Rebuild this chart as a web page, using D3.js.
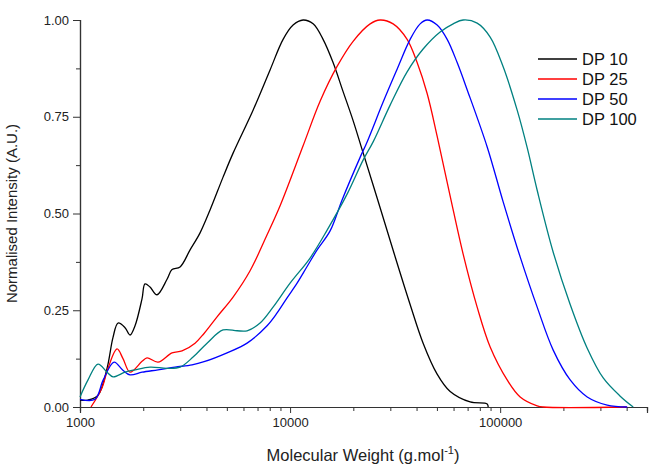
<!DOCTYPE html>
<html>
<head>
<meta charset="utf-8">
<script src="https://cdn.jsdelivr.net/npm/d3@7"></script>
<style>
  body { margin: 0; background: #fff; }
  svg { font-family: "Liberation Sans", Arial, sans-serif; }
</style>
</head>
<body>
<svg id="chart" width="672" height="464"></svg>
<script>
// molecular weight (g/mol) and normalised intensity for each sample
const dp10MW = [1000, 1092, 1218, 1345, 1436, 1517, 1638, 1730, 1828, 1974, 2039, 2154, 2326, 2596, 2742, 2994, 3342, 3728, 4159, 4797, 5354, 6665, 8031, 9262, 10335, 11533, 12873, 14356, 16020, 17880, 19953, 22026, 25965, 30942, 37276, 42984, 50119, 57815, 71969, 86744, 87700];
const dp10I = [0.018, 0.018, 0.03, 0.10, 0.18, 0.217, 0.205, 0.186, 0.21, 0.28, 0.318, 0.31, 0.29, 0.33, 0.355, 0.362, 0.406, 0.45, 0.509, 0.594, 0.656, 0.767, 0.871, 0.95, 0.987, 1.0, 0.99, 0.95, 0.89, 0.815, 0.74, 0.665, 0.54, 0.405, 0.265, 0.165, 0.085, 0.04, 0.013, 0.008, 0.0];

const dp25MW = [1128, 1273, 1359, 1501, 1602, 1730, 1974, 2085, 2352, 2742, 3060, 3529, 3894, 4492, 5354, 6450, 7772, 8963, 11533, 13895, 16738, 19953, 24045, 26827, 30942, 36069, 40250, 44920, 50119, 57815, 66651, 77720, 89630, 107970, 124500, 150040, 160000, 400000];
const dp25I = [0.0, 0.05, 0.10, 0.15, 0.125, 0.09, 0.118, 0.127, 0.116, 0.14, 0.145, 0.165, 0.19, 0.233, 0.284, 0.352, 0.445, 0.52, 0.675, 0.79, 0.88, 0.945, 0.99, 1.0, 0.99, 0.95, 0.89, 0.81, 0.70, 0.545, 0.395, 0.258, 0.155, 0.07, 0.026, 0.003, 0.0, 0.0];

const dp50MW = [1000, 1179, 1290, 1452, 1600, 1730, 1974, 2352, 2835, 3415, 3894, 5012, 6242, 7772, 8674, 9676, 10798, 12050, 13449, 15505, 17685, 21544, 23263, 27729, 32322, 37276, 41591, 44920, 50119, 55945, 62420, 69640, 86744, 103350, 124500, 150040, 178860, 215440, 259650, 323220, 402510];
const dp50I = [0.02, 0.02, 0.07, 0.116, 0.095, 0.083, 0.09, 0.096, 0.103, 0.109, 0.117, 0.14, 0.165, 0.21, 0.243, 0.282, 0.32, 0.363, 0.406, 0.455, 0.535, 0.645, 0.685, 0.788, 0.873, 0.95, 0.99, 1.0, 0.987, 0.95, 0.89, 0.82, 0.672, 0.53, 0.388, 0.258, 0.147, 0.07, 0.026, 0.005, 0.0];

const dp100MW = [1000, 1092, 1218, 1345, 1436, 1638, 1828, 2154, 2596, 2994, 3453, 4025, 4797, 5593, 6242, 7197, 8299, 10000, 12451, 15008, 18680, 22262, 24850, 29940, 36069, 42984, 51795, 59748, 66651, 77720, 89630, 103350, 120500, 134490, 150040, 178860, 215440, 259650, 309420, 372760, 429840];
const dp100I = [0.026, 0.07, 0.111, 0.09, 0.078, 0.09, 0.096, 0.103, 0.10, 0.103, 0.129, 0.165, 0.199, 0.197, 0.197, 0.217, 0.258, 0.32, 0.385, 0.457, 0.55, 0.638, 0.685, 0.78, 0.866, 0.925, 0.969, 0.99, 1.0, 0.992, 0.956, 0.879, 0.767, 0.67, 0.56, 0.40, 0.265, 0.152, 0.075, 0.028, 0.0];

const seriesNames = ["DP 10", "DP 25", "DP 50", "DP 100"];
const colors = ["#000000", "#ff0000", "#0000ff", "#008080"];

const xMajor = [1000, 10000, 100000];
const xMinor = [2000, 3000, 4000, 5000, 6000, 7000, 8000, 9000,
  20000, 30000, 40000, 50000, 60000, 70000, 80000, 90000,
  200000, 300000, 400000, 500000];
const yMajor = [0, 0.25, 0.5, 0.75, 1.0];
const yMinor = [0.125, 0.375, 0.625, 0.875];

const margins = { top: 20, left: 80, right: 25, bottom: 57 };
const width = 672, height = 464;
const graphW = width - margins.left - margins.right;
const graphH = height - margins.top - margins.bottom;

const svg = d3.select("#chart");

const scaleX = d3.scaleLog().domain([1000, 500000]).range([0, graphW]);
const scaleY = d3.scaleLinear().domain([0, 1]).range([graphH, 0]);

const g = svg.append("g").attr("transform", `translate(${margins.left},${margins.top})`);

// axes
const xAxisG = g.append("g").attr("transform", `translate(0,${graphH})`);
xAxisG.append("g").call(d3.axisBottom(scaleX).tickValues(xMinor).tickSize(4).tickFormat(""));
xAxisG.append("g").call(d3.axisBottom(scaleX).tickValues(xMajor).tickSize(6).tickFormat(d3.format("d")).tickPadding(5));

const yAxisG = g.append("g");
yAxisG.append("g").call(d3.axisLeft(scaleY).tickValues(yMinor).tickSize(4).tickFormat(""));
yAxisG.append("g").call(d3.axisLeft(scaleY).tickValues(yMajor).tickSize(7).tickFormat(d3.format(".2f")).tickPadding(4));

g.selectAll(".domain").attr("stroke", "#333").attr("stroke-width", 1.2);
g.selectAll(".tick line").attr("stroke", "#333");
g.selectAll(".tick text").attr("font-size", 13).attr("fill", "#222")
  .attr("font-family", "'Liberation Sans', Arial, sans-serif");

// lines
const allSeries = [
  { mw: dp10MW, v: dp10I },
  { mw: dp25MW, v: dp25I },
  { mw: dp50MW, v: dp50I },
  { mw: dp100MW, v: dp100I }
];

const line = d3.line()
  .x((d) => scaleX(d[0]))
  .y((d) => scaleY(d[1]))
  .curve(d3.curveCatmullRom.alpha(0.5));

allSeries.forEach((s, i) => {
  const pts = s.mw.map((m, j) => [m, s.v[j]]);
  g.append("path")
    .datum(pts)
    .attr("fill", "none")
    .attr("stroke", colors[i])
    .attr("stroke-width", 1.3)
    .attr("d", line);
});

// legend
const legend = svg.append("g").attr("transform", "translate(538,59)");
seriesNames.forEach((name, i) => {
  const row = legend.append("g").attr("transform", `translate(0,${i * 20})`);
  row.append("line").attr("x1", 0).attr("x2", 39).attr("y1", 0).attr("y2", 0)
    .attr("stroke", colors[i]).attr("stroke-width", 1.3);
  row.append("text").attr("x", 44).attr("y", 6).attr("font-size", 16.5)
    .attr("fill", "#111").text(name);
});

// axis titles
const xTitle = svg.append("text")
  .attr("x", 363)
  .attr("y", 461)
  .attr("text-anchor", "middle")
  .attr("font-size", 16.5)
  .attr("fill", "#222");
xTitle.append("tspan").text("Molecular Weight (g.mol");
xTitle.append("tspan").attr("dy", -7).attr("font-size", 11).text("-1");
xTitle.append("tspan").attr("dy", 7).text(")");

svg.append("text")
  .attr("transform", `translate(17,${margins.top + scaleY(0.5)}) rotate(-90)`)
  .attr("text-anchor", "middle")
  .attr("font-size", 15)
  .attr("fill", "#222")
  .text("Normalised Intensity (A.U.)");
</script>
</body>
</html>
